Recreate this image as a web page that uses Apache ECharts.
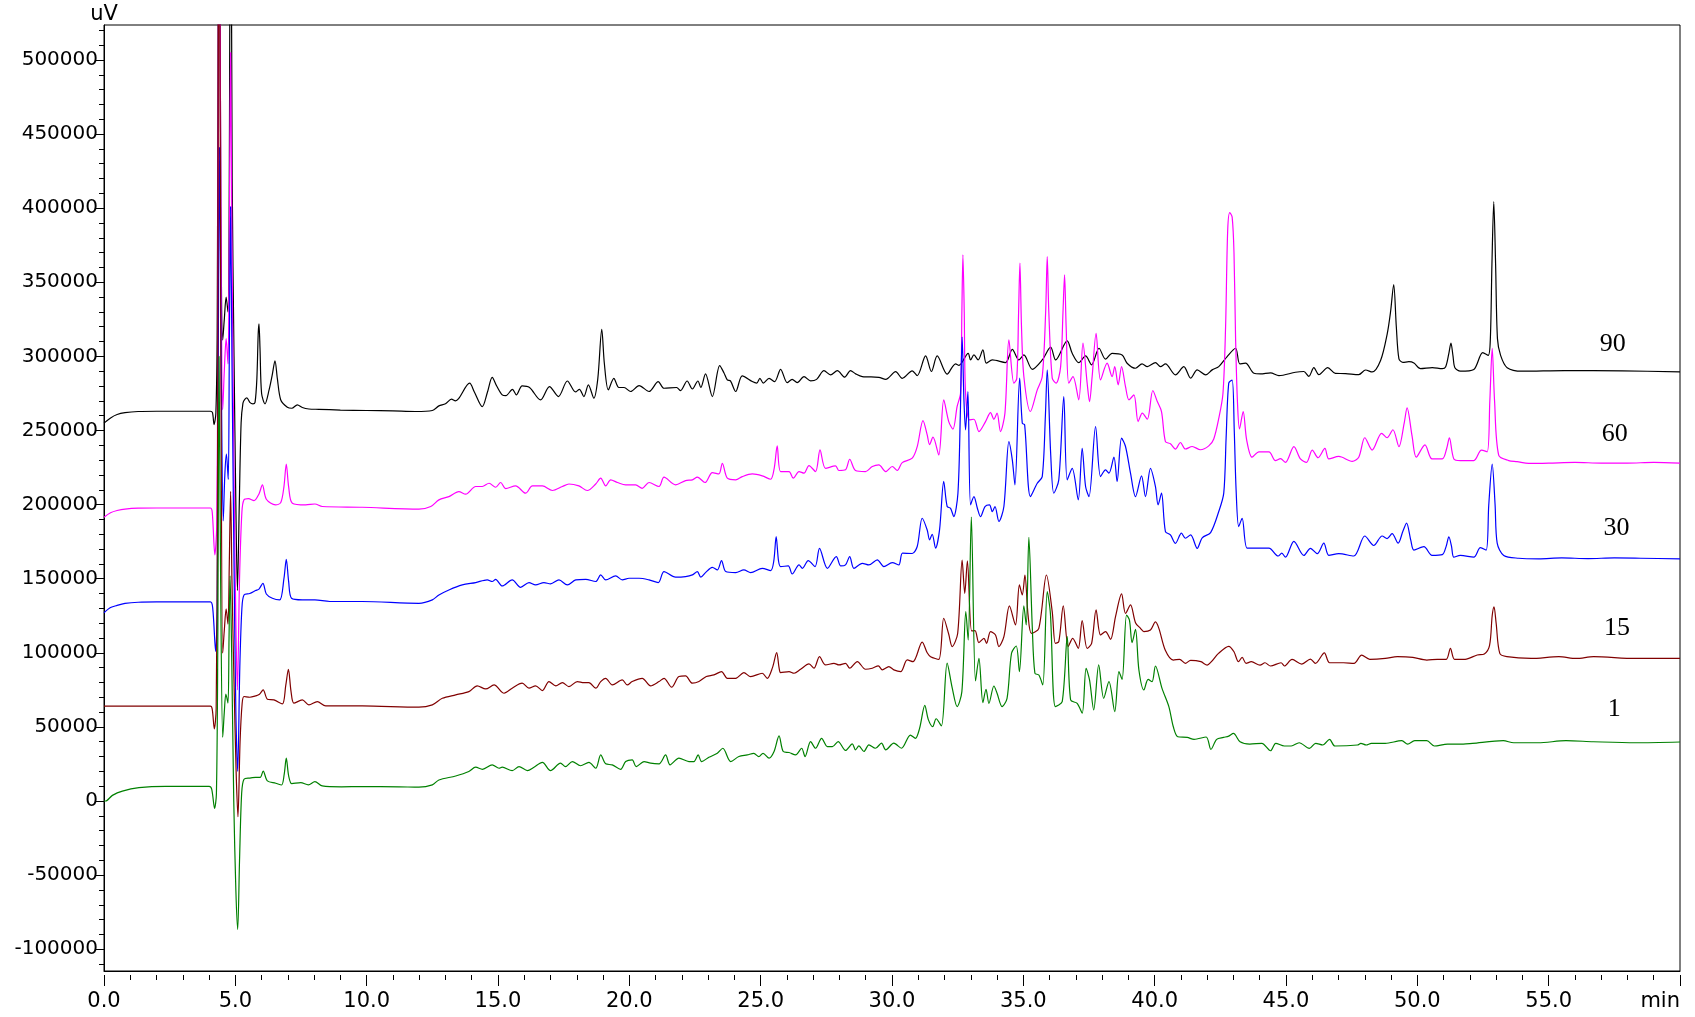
<!DOCTYPE html>
<html>
<head>
<meta charset="utf-8">
<script src="https://cdn.jsdelivr.net/npm/echarts@6/dist/echarts.min.js"></script>
<style>
html,body{margin:0;padding:0;background:#fff;}
#chart{width:1695px;height:1017px;}
</style>
</head>
<body>
<div id="chart"></div>
<script>
// ---- DATA (time in min, signal in thousands of uV) ----
const seriesNames = ['90', '60', '30', '15', '1'];
const seriesColors = ['#000000', '#ff00ff', '#0000ff', '#800000', '#008000'];

const trace90 = [[0,255],[0.25,258.5],[0.5,260.8],[0.8,262],[1.3,262.8],[2,263],[3,263],[4.05,263],[4.13,262],[4.19,254],[4.26,262],[4.31,320],[4.38,700],[4.45,400],[4.52,311],[4.58,325],[4.65,340],[4.72,330],[4.77,420],[4.82,700],[4.88,420],[4.95,300],[5.02,200],[5.08,142],[5.15,200],[5.22,255],[5.29,268.5],[5.36,271],[5.44,272],[5.55,269],[5.67,268],[5.75,269],[5.82,285],[5.87,315],[5.90,322],[5.94,305],[6.0,275],[6.13,268],[6.28,277],[6.4,287],[6.51,297],[6.6,285],[6.73,270.6],[6.98,265.7],[7.15,265],[7.36,267.3],[7.55,265.5],[7.8,264.5],[8.18,264.3],[9,263.8],[10,263.5],[11,263.2],[11.86,262.8],[12.5,263.5],[12.75,266.6],[13.0,268],[13.23,271.1],[13.38,270],[13.5,271.5],[13.92,281.9],[14.1,276],[14.4,266.1],[14.6,276],[14.78,285.9],[14.95,280],[15.16,274],[15.3,273.5],[15.55,277.8],[15.7,274],[15.92,280.1],[16.2,279],[16.62,270.6],[16.96,279.6],[17.3,272.9],[17.64,283.4],[17.95,276],[18.1,277.8],[18.27,272.9],[18.44,280.8],[18.65,271.8],[18.8,285],[18.95,318.3],[19.05,295],[19.2,277.4],[19.41,285.2],[19.6,279],[19.8,279],[20.05,276.3],[20.37,280.3],[20.75,276.3],[21.1,283],[21.32,278.5],[21.8,279],[21.95,276.9],[22.2,283.4],[22.4,278],[22.61,283.4],[22.72,279],[22.9,288.2],[23.16,272.9],[23.44,293.8],[23.6,289],[23.73,284.1],[23.85,283.5],[24.05,276.3],[24.3,286.8],[24.68,283],[24.85,282],[24.97,285.2],[25.1,282],[25.32,285.2],[25.53,283],[25.76,291.3],[26.01,282.3],[26.2,284.5],[26.39,282.3],[26.65,286.4],[26.9,283.5],[27.13,284.5],[27.41,290.4],[27.66,287.5],[27.92,290.4],[28.2,286],[28.42,290.4],[28.62,288.2],[28.87,286.4],[29.5,285.9],[29.76,284.5],[30.14,289.7],[30.39,285.2],[30.77,290.2],[30.96,287],[31.28,300.3],[31.5,289.8],[31.72,300.3],[32.1,288],[32.3,293],[32.42,294.9],[32.55,294],[32.9,302.1],[32.99,297.6],[33.12,301],[33.28,297.6],[33.46,304.4],[33.59,295.4],[33.82,297.6],[34.32,295.8],[34.58,304.8],[34.83,297.6],[35.02,301],[35.34,291.3],[35.72,297.6],[36.04,306.2],[36.23,297.6],[36.67,310.5],[36.86,302.1],[37.11,295.8],[37.37,300.3],[37.6,294.3],[37.88,305.5],[38.13,298.1],[38.38,302.1],[38.76,301],[38.95,295.4],[39.27,292],[39.52,295],[39.72,293.1],[40.03,295.8],[40.22,293.1],[40.41,294.9],[40.79,287.5],[41.11,293.1],[41.37,285.3],[41.62,290.9],[41.94,287.5],[42.19,290.9],[42.44,293.1],[42.76,299.9],[43.08,305.5],[43.24,295],[43.46,295.4],[43.78,288.6],[44.03,288.2],[44.41,288.9],[44.73,287],[45.36,289.3],[45.68,289.8],[45.87,286.5],[46.06,292.4],[46.25,287.7],[46.59,292.4],[46.88,288.5],[47.27,288.4],[47.77,287.7],[48.03,290.8],[48.28,289.5],[48.6,297.2],[48.85,314.9],[48.98,330],[49.1,348.5],[49.2,320],[49.3,298.3],[49.45,296],[49.68,296.4],[49.87,295.5],[50.12,291.7],[50.57,292.4],[50.95,291.7],[51.08,293],[51.2,302],[51.28,309],[51.36,300],[51.43,292.4],[51.64,290],[52.15,291.2],[52.49,302.6],[52.7,300.7],[52.78,312],[52.84,362],[52.91,404.4],[52.98,362],[53.05,312],[53.17,300.7],[53.42,292.4],[53.99,290],[55.6,290.4],[57.8,290.2],[60,289.6]];

const trace60 = [[0,191.5],[0.25,194.5],[0.5,196],[0.8,197],[1.3,197.6],[2,197.7],[4.05,197.7],[4.12,195],[4.22,166],[4.29,185],[4.33,300],[4.38,700],[4.45,400],[4.52,264],[4.58,290],[4.65,312],[4.72,295],[4.77,380],[4.82,505],[4.87,380],[4.95,220],[5.02,120],[5.08,75],[5.16,150],[5.25,195],[5.33,203.2],[5.5,204],[5.71,202.7],[5.9,207.2],[6.03,213.3],[6.18,203.6],[6.53,199.8],[6.73,201.4],[6.85,212],[6.94,227.4],[7.03,212],[7.17,200.9],[7.68,199.8],[8.03,200.4],[8.31,198.7],[9.83,198.2],[11.99,196.9],[12.44,198.7],[12.75,203.2],[13.13,205.4],[13.51,208.8],[13.77,207],[14.15,212.2],[14.4,212.2],[14.66,214.4],[14.91,211.7],[15.1,214.9],[15.29,210.8],[15.67,212.6],[16.05,207.7],[16.31,212.6],[16.69,212.6],[17.07,209.5],[17.45,212.2],[17.7,213.9],[18.08,212.6],[18.4,209.5],[18.72,213.9],[18.91,217.8],[19.1,212.6],[19.29,216.7],[19.55,214.9],[19.86,213.3],[20.24,213.3],[20.49,211],[20.75,214.9],[21.13,212.2],[21.32,218.5],[21.76,213.3],[22.14,216.2],[22.4,216.7],[22.59,218.5],[22.88,214.9],[23.16,221.6],[23.41,220.7],[23.54,227.9],[23.73,217.8],[24.05,216.7],[24.3,218.9],[24.68,220.7],[25.06,219.4],[25.38,217.1],[25.52,225],[25.63,239.6],[25.76,222.3],[26.08,222.3],[26.24,217.8],[26.46,222.3],[26.65,221.2],[26.84,226.3],[27.09,222.3],[27.26,236.9],[27.47,224.5],[27.85,226.1],[27.98,223],[28.23,223.5],[28.39,230.6],[28.61,223],[28.99,222.3],[29.25,225.7],[29.5,226.8],[29.76,222.3],[30.01,225.7],[30.2,223],[30.39,228.3],[30.77,231.3],[30.96,239.1],[31.18,256.7],[31.34,247.1],[31.43,240.5],[31.56,245.5],[31.78,233.5],[31.97,270.7],[32.16,256],[32.32,250.9],[32.48,266.2],[32.61,275.2],[32.66,330],[32.70,368.5],[32.75,330],[32.80,275.2],[32.95,257.2],[33.12,257.6],[33.31,249.3],[33.56,256],[33.75,262.1],[33.88,257.6],[34.0,261.7],[34.13,249.3],[34.3,261.7],[34.45,311.1],[34.64,281.9],[34.75,285],[34.82,330],[34.87,362.9],[34.93,320],[35.02,286.4],[35.27,262.8],[35.53,277.4],[35.72,286.4],[35.85,330],[35.91,367.4],[35.97,330],[36.1,285.3],[36.25,282],[36.42,293.1],[36.51,330],[36.57,355],[36.63,320],[36.73,281.9],[36.89,286.4],[37.11,270.7],[37.27,308.9],[37.43,281.9],[37.52,269.5],[37.62,286.4],[37.77,315.6],[37.94,284.1],[38.19,295.4],[38.38,286.4],[38.48,293.1],[38.61,280.8],[38.74,293.1],[38.89,279.6],[39.02,270.7],[39.21,274],[39.37,256],[39.53,261.7],[39.72,257.6],[39.93,277],[40.1,269.5],[40.26,262.8],[40.41,242.5],[40.6,241],[40.79,237.4],[40.98,241.9],[41.17,237.5],[41.43,239.2],[41.74,237.0],[42.06,239.6],[42.25,244.3],[42.44,258.1],[42.6,275],[42.7,320],[42.78,385],[42.86,397],[42.95,394],[43.02,370],[43.08,312.5],[43.15,270],[43.23,251],[43.37,262.8],[43.5,243.9],[43.71,232],[43.97,235.6],[44.35,235.6],[44.6,229.7],[44.79,231],[44.98,228.5],[45.3,239.1],[45.55,230.8],[45.78,228.5],[46.0,236.8],[46.22,231.6],[46.48,237.9],[46.63,230.8],[47.01,232.5],[47.52,229.2],[47.77,232],[48.0,245.1],[48.28,236.8],[48.64,248.1],[48.85,245.1],[49.07,250.5],[49.3,239.1],[49.5,255],[49.61,265.2],[49.8,246.2],[49.96,232],[50.29,240.3],[50.56,230.8],[50.95,230.8],[51.12,238],[51.22,245.1],[51.39,230.8],[51.64,229.7],[52.15,229.7],[52.44,236.8],[52.66,235.6],[52.76,270],[52.85,305.4],[52.94,270],[53.1,233.2],[53.48,229.7],[53.8,229],[54.24,227.8],[55,228],[56,228.5],[57,228],[58,228],[59,228.5],[60,228]];

const trace30 = [[0,127],[0.25,130.5],[0.5,132],[0.8,133.3],[1.3,134.1],[2,134.3],[4.05,134.3],[4.14,130],[4.25,101],[4.31,130],[4.35,300],[4.4,441],[4.46,300],[4.54,189],[4.6,220],[4.66,234],[4.73,217],[4.77,300],[4.82,401],[4.87,300],[4.95,160],[5.02,60],[5.09,20],[5.17,90],[5.25,130],[5.33,139],[5.55,140],[5.77,142],[5.9,143],[6.05,146.9],[6.18,139.7],[6.41,136.8],[6.69,135.7],[6.85,150],[6.94,163.1],[7.03,148],[7.14,136.8],[7.55,135.7],[8.03,135.7],[8.6,134.6],[9.83,134.6],[11.99,133.4],[12.5,135.7],[12.75,139],[13.13,142.4],[13.64,145.8],[14.15,147.4],[14.59,149.2],[14.78,148.1],[14.91,149.6],[15.16,145.1],[15.54,149.2],[15.86,144.2],[16.18,147.4],[16.43,145.8],[16.75,147.4],[17.0,146.5],[17.32,149.2],[17.64,145.8],[17.96,149.2],[18.34,149.6],[18.72,148.1],[18.91,152.6],[19.1,149.2],[19.48,151.9],[19.73,149.2],[19.99,150.3],[20.37,150.3],[20.75,149.2],[21.1,147.4],[21.32,154.8],[21.76,151],[22.14,151.4],[22.4,152.6],[22.59,154.8],[22.72,151],[22.9,154.1],[23.16,157.7],[23.35,155.9],[23.51,162.2],[23.67,154.8],[24.05,154.1],[24.36,155.9],[24.62,154.1],[25.06,157],[25.38,155.5],[25.5,162],[25.59,178.4],[25.68,162],[25.76,158.2],[26.05,158.6],[26.2,153.2],[26.46,159.3],[26.59,157],[26.81,162.2],[27.07,158.2],[27.24,170.5],[27.54,157],[27.88,164.9],[28.05,158.6],[28.23,159.3],[28.39,164.9],[28.55,157],[28.87,160.4],[29.12,159.3],[29.44,162.7],[29.69,158.2],[30.01,160.9],[30.26,159.3],[30.4,167.2],[30.77,167],[30.96,171.7],[31.15,190.8],[31.34,182.9],[31.43,176.2],[31.53,180],[31.66,170.6],[31.81,182.9],[31.97,215.6],[32.1,198.7],[32.23,197.5],[32.35,191.9],[32.51,207.7],[32.6,260],[32.67,313],[32.74,270],[32.8,250.4],[32.89,276.3],[32.99,199.8],[33.12,205.4],[33.25,197.5],[33.37,191.9],[33.54,198.7],[33.71,199.8],[33.82,195.2],[33.92,198.7],[34.07,188.6],[34.26,198.7],[34.45,242.5],[34.58,230.2],[34.68,213.3],[34.86,285.3],[34.96,254.9],[35.05,253.8],[35.27,205.4],[35.53,214.4],[35.72,218.9],[35.84,260],[35.91,290.9],[36.04,234.7],[36.16,207.7],[36.35,216.7],[36.54,272.9],[36.67,216.7],[36.86,224.5],[37.09,203.2],[37.24,238],[37.37,212.2],[37.5,205.4],[37.75,252.7],[37.94,218.9],[38.13,223.4],[38.26,221.2],[38.45,232],[38.57,215.6],[38.74,244.8],[38.89,239.2],[39.08,221.2],[39.27,205.4],[39.5,219.4],[39.65,205.4],[39.84,224.5],[40.03,212.2],[40.13,199.8],[40.26,207.7],[40.41,181.8],[40.6,179.6],[40.79,173.9],[41.02,180.7],[41.17,177.3],[41.37,179.6],[41.62,170.5],[41.81,177.6],[42.13,181.1],[42.44,195.3],[42.63,207.7],[42.72,245],[42.82,282],[42.95,284],[43.03,250],[43.1,210],[43.2,185.2],[43.33,190.8],[43.52,170.6],[43.84,170.6],[44.35,170.6],[44.7,165.3],[44.84,167.2],[44.98,164.5],[45.3,175.2],[45.68,165.7],[45.93,170.5],[46.19,166.9],[46.44,174],[46.63,165.7],[47.01,166.9],[47.58,165.3],[48.0,178.8],[48.34,172.4],[48.66,178.8],[48.85,177.1],[49.04,180.4],[49.27,174],[49.45,182],[49.59,187.5],[49.75,176],[49.87,169.3],[50.25,171.6],[50.56,165.7],[50.95,166.2],[51.1,172],[51.2,178.3],[51.3,172],[51.39,164.5],[51.64,165.7],[52.15,164.5],[52.4,170.9],[52.62,169.3],[52.72,200],[52.85,227.3],[52.96,200],[53.04,174],[53.29,165.7],[53.86,163.8],[54.62,163.4],[55.5,164],[56.5,163.6],[57.5,164],[58.5,163.8],[60,163.4]];

const trace15 = [[0,64],[2,64],[4.05,64],[4.12,62],[4.2,48.6],[4.27,62],[4.32,200],[4.38,700],[4.45,300],[4.52,99.8],[4.58,115],[4.65,129.6],[4.72,119.4],[4.77,160],[4.82,209],[4.87,150],[4.95,80],[5.03,20],[5.1,-10.6],[5.18,40],[5.26,66],[5.33,70.5],[5.55,70],[5.77,70.9],[5.92,72],[6.06,75],[6.22,68.7],[6.47,68.2],[6.79,65.5],[6.92,78],[7.02,88.9],[7.12,74],[7.23,66],[7.55,68.2],[7.8,64.9],[8.12,67.1],[8.44,64.2],[9.83,64.2],[11.99,63.3],[12.5,64.9],[12.88,69.3],[13.39,71.6],[13.89,73.8],[14.21,77.7],[14.53,75.6],[14.85,78.3],[15.23,72.7],[15.54,76.1],[15.92,79.5],[16.18,76.1],[16.43,77.7],[16.69,74.5],[16.94,80.6],[17.2,77.7],[17.45,79.9],[17.7,77.2],[18.02,80.6],[18.27,79.9],[18.46,79.9],[18.72,76.1],[18.91,80.6],[19.1,82.8],[19.35,78.3],[19.73,81.7],[19.92,78.3],[20.11,80.6],[20.49,82.8],[20.81,77.7],[21.13,80.6],[21.32,82.8],[21.61,76.8],[21.89,84],[22.14,84.4],[22.4,79.5],[22.65,80.6],[22.93,84],[23.22,85.1],[23.51,87.3],[23.73,82.8],[24.05,82.8],[24.36,86.6],[24.62,83.9],[25.06,86.2],[25.25,82.8],[25.45,90],[25.61,100.1],[25.7,90],[25.76,86.6],[26.08,87.3],[26.27,86.2],[26.52,88.9],[26.84,92.5],[27.03,89.6],[27.24,97.4],[27.47,91.8],[27.79,92.9],[27.98,91.8],[28.23,92.9],[28.39,89.6],[28.68,94.1],[28.99,88.9],[29.25,89.6],[29.48,91.2],[29.63,88.5],[29.88,90.7],[30.07,88.5],[30.33,87.3],[30.58,95.2],[30.8,94],[31.15,107.2],[31.34,100],[31.47,97.4],[31.78,95.5],[31.97,123.3],[32.16,112.5],[32.29,104.2],[32.5,113],[32.67,162.5],[32.77,140.1],[32.87,162],[33.03,114.8],[33.16,115],[33.31,106.9],[33.5,109.8],[33.6,106.4],[33.75,114.3],[33.94,112],[34.07,104.2],[34.26,110.9],[34.47,131.6],[34.7,118.8],[34.85,145.8],[34.96,139],[35.06,152.5],[35.18,125.5],[35.31,113.1],[35.59,116.5],[35.88,152.5],[36.1,127.8],[36.22,106.4],[36.35,107.5],[36.52,131.6],[36.71,104.2],[36.88,109.8],[37.09,103],[37.24,121.7],[37.43,103],[37.6,106.4],[37.77,128.9],[37.94,112],[38.13,114.3],[38.32,109.1],[38.51,124.4],[38.74,139.7],[38.89,126.6],[39.08,132.3],[39.27,120.3],[39.46,116.5],[39.59,114.3],[39.84,115.4],[40.03,120.8],[40.16,116.5],[40.41,101.5],[40.71,95.1],[40.95,95.6],[41.17,92.9],[41.37,94.9],[41.76,94],[42.0,91.7],[42.16,94],[42.43,99.6],[42.82,104.4],[43.02,100.7],[43.19,94],[43.33,96.9],[43.48,92.9],[43.68,94],[44.01,91.7],[44.2,93.3],[44.41,91.1],[44.81,93.3],[44.94,91.1],[45.23,95.5],[45.6,92.4],[45.93,95.8],[46.12,92.9],[46.46,100],[46.66,93.3],[47.19,93.3],[47.59,92.9],[47.88,98.4],[48.19,95.6],[48.78,96.2],[49.24,97.4],[49.83,96.9],[50.36,95.1],[50.76,95.6],[51.1,95.6],[51.26,103],[51.42,95.5],[51.82,95.6],[52.28,98.5],[52.55,99.2],[52.75,105],[52.85,125],[52.92,131],[53.0,120],[53.14,99.6],[53.41,97.4],[54.33,96.2],[55.39,97.4],[56.05,96.2],[56.71,97.4],[58.3,96.2],[60,96.2]];

const trace1 = [[0,0],[0.06,0],[0.32,3.8],[0.7,6.7],[1.33,9],[2.35,9.9],[4.0,9.9],[4.1,8],[4.21,-5],[4.28,5],[4.33,100],[4.38,300],[4.44,150],[4.52,43],[4.58,60],[4.64,72.2],[4.72,66.1],[4.76,110],[4.8,152],[4.86,100],[4.94,0],[5.02,-60],[5.09,-86.6],[5.16,-40],[5.24,5],[5.33,14.7],[5.55,15.5],[5.77,15.9],[5.95,16],[6.06,20.2],[6.22,13.6],[6.54,12],[6.76,10.8],[6.86,18],[6.94,28.9],[7.03,17],[7.15,11.7],[7.49,12.4],[7.78,10.9],[8.03,13.1],[8.31,10.2],[9.04,9.6],[9.83,9.7],[11.23,9.6],[11.99,9.3],[12.5,10.9],[12.75,14.2],[13.39,16.9],[13.89,19.9],[14.15,22.8],[14.41,21.4],[14.78,24.4],[15.04,22.1],[15.16,22.8],[15.54,20.5],[15.8,23.2],[16.12,20.5],[16.37,22.8],[16.69,26],[17.0,20.5],[17.38,25.5],[17.57,23.2],[17.83,26.6],[18.14,23.8],[18.46,26],[18.72,22.1],[18.91,31.1],[19.1,25.1],[19.35,24.4],[19.67,21.4],[19.86,26.6],[20.11,27.7],[20.26,23.2],[20.56,26.6],[20.81,25.5],[21.13,25.1],[21.38,31.1],[21.55,24.4],[21.89,28.9],[22.27,26.6],[22.46,26.6],[22.62,31.1],[22.75,26.6],[23.03,29.5],[23.35,32.2],[23.56,35.6],[23.86,26.6],[24.17,30],[24.49,31.1],[24.74,32.2],[24.93,29.9],[25.09,32.2],[25.32,28.9],[25.51,33.4],[25.7,43.9],[25.86,33.4],[26.08,32.7],[26.33,31.1],[26.56,35.6],[26.69,30],[26.9,40.1],[27.09,35.6],[27.32,42.3],[27.54,36.7],[27.73,36.7],[27.95,40.1],[28.23,34.1],[28.49,38.5],[28.61,34.5],[28.74,37.2],[28.93,33.4],[29.12,37.9],[29.37,35.6],[29.6,39],[29.76,34.5],[30.07,39],[30.36,35.6],[30.7,44.5],[30.89,42.3],[31.05,49],[31.25,64.5],[31.38,55.1],[31.55,50.2],[31.68,55.5],[31.88,50.6],[32.1,93],[32.29,76.5],[32.48,63.7],[32.66,73.8],[32.81,127.8],[32.9,108.6],[33.02,191.6],[33.18,81],[33.31,96.3],[33.46,66.4],[33.58,75.4],[33.69,65.9],[33.88,77.6],[34.0,72.7],[34.19,63.7],[34.38,69.3],[34.55,99.7],[34.73,104.6],[34.85,87.3],[35.02,131.6],[35.11,118.8],[35.21,177.9],[35.34,117.6],[35.44,86.2],[35.59,85],[35.74,78.3],[35.91,141.3],[36.03,126.6],[36.22,63.7],[36.48,67],[36.67,110.9],[36.8,68.2],[37.05,65.9],[37.24,59.2],[37.39,89.5],[37.52,81.7],[37.68,61.4],[37.87,91.8],[38.06,69.3],[38.26,80.5],[38.48,60.3],[38.64,87.3],[38.76,82.1],[38.93,125.5],[39.04,122.1],[39.14,106.9],[39.27,115.8],[39.4,88.4],[39.59,74.9],[39.75,82.1],[39.9,80.5],[40.03,91.1],[40.28,76],[40.54,63.7],[40.71,50.1],[40.88,43.4],[41.24,42.9],[41.5,41.6],[41.96,43.2],[42.14,34.8],[42.36,41.6],[42.62,42.9],[42.82,43.8],[43.0,45.6],[43.25,40],[43.62,38.4],[44.08,38.9],[44.41,33.9],[44.61,38.9],[44.94,37.1],[45.2,37.1],[45.5,39.3],[45.89,35.5],[46.13,38.9],[46.4,37.8],[46.66,41.6],[46.86,37.1],[47.72,37.8],[47.85,38.9],[48.05,37.8],[48.25,38.9],[48.78,38.9],[49.41,40.7],[49.63,38.4],[49.9,40.7],[50.36,40.7],[50.65,37.1],[51.15,38.4],[51.75,38.4],[52.1,38.9],[53.27,40.7],[53.67,39.3],[54.6,39.3],[55.66,40.7],[56.7,40],[58.3,39.3],[60,39.8]];

const traces = [trace90, trace60, trace30, trace15, trace1];
const VALUE_UNIT = 1000; // arrays above are in thousands of uV

// Tick values
const yMajorTicks = [-100000,-50000,0,50000,100000,150000,200000,250000,300000,350000,400000,450000,500000];
const yMinorTicks = [];
for (let v = -110000; v <= 520000; v += 10000) yMinorTicks.push(v);

// ---- LAYOUT ----
const layout = {
  yMin: -114700, yMax: 523600,
  xMin: 0, xMax: 60,
  // anchor of trace name labels, in axis units [min, kuV]
  labelAnchors: [[57.44, 308.4], [57.52, 247.4], [57.58, 184.4], [57.6, 116.5], [57.5, 62.1]]
};

const axisFont = 'DejaVu Sans';
const chart = echarts.init(document.getElementById('chart'), null, {renderer: 'canvas'});

const series = traces.map((tr, i) => ({
  name: seriesNames[i],
  type: 'line',
  data: tr.map(p => [p[0], p[1] * VALUE_UNIT]),
  xAxisIndex: 0,
  yAxisIndex: 0,
  showSymbol: false,
  symbol: 'none',
  smooth: 0.3,
  clip: true,
  lineStyle: {color: seriesColors[i], width: 1.2},
  itemStyle: {color: seriesColors[i]},
  emphasis: {disabled: true},
  animation: false,
  markPoint: {
    symbol: 'circle',
    symbolSize: 1,
    itemStyle: {color: 'rgba(0,0,0,0)'},
    silent: true,
    animation: false,
    data: [{
      coord: [layout.labelAnchors[i][0], layout.labelAnchors[i][1] * VALUE_UNIT],
      label: {
        show: true, position: 'inside', formatter: seriesNames[i],
        color: '#000', fontFamily: 'Liberation Serif', fontSize: 26
      }
    }]
  }
}));

const option = {
  backgroundColor: '#ffffff',
  animation: false,
  grid: {left: 104, right: 15, top: 25, bottom: 46, show: true, borderColor: '#000', borderWidth: 1, backgroundColor: 'transparent'},
  xAxis: [
    {
      type: 'value', min: layout.xMin, max: layout.xMax, interval: 5, position: 'bottom',
      axisLine: {show: true, onZero: false, lineStyle: {color: '#000', width: 1}},
      axisTick: {show: false},
      splitLine: {show: false},
      axisLabel: {
        show: true, color: '#000', fontFamily: axisFont, fontSize: 21, margin: 20,
        alignMaxLabel: 'right',
        formatter: v => (v === 60 ? 'min' : v.toFixed(1))
      }
    },
    {
      type: 'value', min: layout.xMin, max: layout.xMax, interval: 5, offset: 4,
      position: 'bottom',
      axisLine: {show: false, onZero: false},
      axisTick: {show: true, length: 11, lineStyle: {color: '#000', width: 1}},
      minorTick: {show: true, splitNumber: 5, length: 5, lineStyle: {color: '#000', width: 1}},
      splitLine: {show: false},
      minorSplitLine: {show: false},
      axisLabel: {show: false}
    }
  ],
  yAxis: [
    {
      type: 'value', min: layout.yMin, max: layout.yMax, position: 'left',
      name: 'uV', nameLocation: 'end', nameGap: 0,
      nameTextStyle: {color: '#000', fontFamily: axisFont, fontSize: 21, align: 'center', verticalAlign: 'bottom'},
      axisLine: {show: true, onZero: false, lineStyle: {color: '#000', width: 1}},
      axisTick: {show: true, length: 8, customValues: yMajorTicks, lineStyle: {color: '#000', width: 1}},
      axisLabel: {show: true, customValues: yMajorTicks, color: '#000', fontFamily: axisFont, fontSize: 20, margin: 6,
        formatter: v => String(Math.round(v))},
      splitLine: {show: false}
    },
    {
      type: 'value', min: layout.yMin, max: layout.yMax, position: 'left', offset: 0,
      axisLine: {show: false, onZero: false},
      axisTick: {show: true, length: 5, customValues: yMinorTicks, lineStyle: {color: '#000', width: 1}},
      axisLabel: {show: false},
      splitLine: {show: false}
    }
  ],
  series: series
};

chart.setOption(option);
</script>
</body>
</html>
